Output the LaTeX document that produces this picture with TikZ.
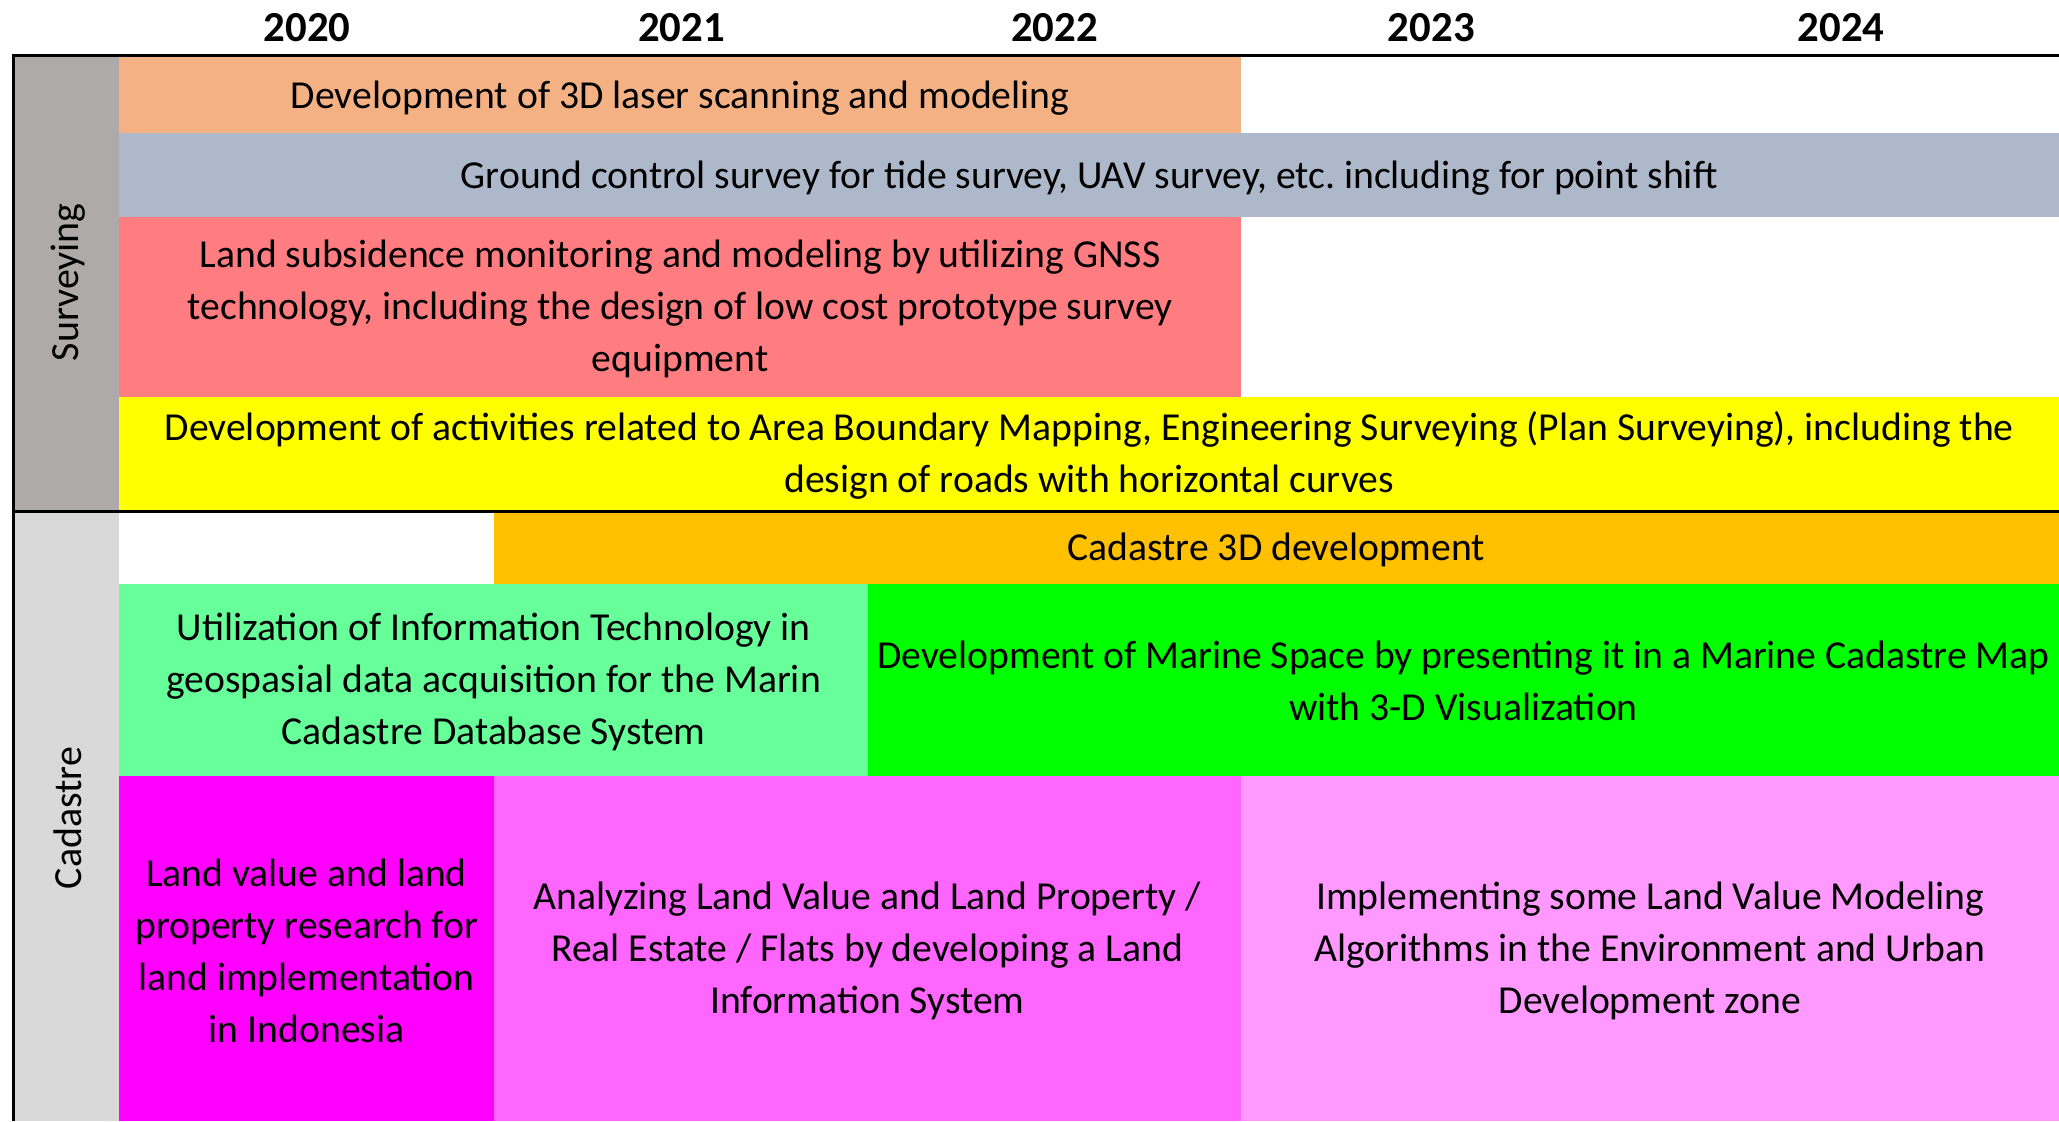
\documentclass[tikz,border=0pt]{standalone}
\usepackage{fontspec}
\setmainfont{Carlito}
\frenchspacing
\usetikzlibrary{fit}
\definecolor{cLaser}{HTML}{F4B183}
\definecolor{cGround}{HTML}{ADB9CA}
\definecolor{cSubs}{HTML}{FF7C80}
\definecolor{cYellow}{HTML}{FFFF00}
\definecolor{cCad}{HTML}{FFC000}
\definecolor{cMint}{HTML}{66FF99}
\definecolor{cGreen}{HTML}{00FF00}
\definecolor{cMag}{HTML}{FF00FF}
\definecolor{cPink}{HTML}{FF66FF}
\definecolor{cLPink}{HTML}{FF99FF}
\definecolor{cSurv}{HTML}{AEAAAA}
\definecolor{cCadL}{HTML}{D9D9D9}
\begin{document}
\begin{tikzpicture}[x=0.5pt,y=-0.5pt,
  box/.style={inner sep=0pt, outer sep=0pt, draw=none},
  txt/.style={inner sep=0pt, outer sep=0pt, align=center, yshift=-0.7pt, font=\frenchspacing\fontsize{15.1}{19.8}\selectfont},
  year/.style={font=\bfseries\fontsize{16.3}{18}\selectfont, inner sep=0pt},
  side/.style={rotate=90, inner sep=0pt, font=\fontsize{15.2}{16}\selectfont},
  frameline/.style={line width=1.1pt, black}]
\useasboundingbox (0,0) rectangle (1568,854);
% years
\node[year] (y20) at (234,21) {2020};
\node[year] (y21) at (519,21) {2021};
\node[year] (y22) at (803,21) {2022};
\node[year] (y23) at (1090,21) {2023};
\node[year] (y24) at (1402,21) {2024};
% side columns
\node[box, fill=cSurv, fit={(10,42)(91,389.5)}] (survcol) {};
\node[box, fill=cCadL, fit={(10,389.5)(91,854)}] (cadcol) {};
\node[side] (survlab) at (52,215) {Surveying};
\node[side] (cadlab) at (52,623) {Cadastre};
% surveying rows
\node[box, fill=cLaser, fit={(91,42)(945,101)}] (laser) {};
\node[box, fill=cGround, fit={(91,101)(1568,165)}] (ground) {};
\node[box, fill=cSubs, fit={(91,165)(945,302)}] (subs) {};
\node[box, fill=cYellow, fit={(91,302)(1568,389.5)}] (bound) {};
% cadastre rows
\node[box, fill=cCad, fit={(376,389.5)(1568,445)}] (cad3d) {};
\node[box, fill=cMint, fit={(91,445)(661,591)}] (itgeo) {};
\node[box, fill=cGreen, fit={(661,445)(1568,591)}] (marine) {};
\node[box, fill=cMag, fit={(91,591)(376,854)}] (landval) {};
\node[box, fill=cPink, fit={(376,591)(945,854)}] (analyz) {};
\node[box, fill=cLPink, fit={(945,591)(1568,854)}] (implem) {};
% texts
\node[txt] (laserT) at ([yshift=-0.8pt]laser.center) {Development of 3D laser scanning and modeling};
\node[txt] (groundT) at ([yshift=-0.5pt]ground.center) {Ground control survey for tide survey, UAV survey, etc. including for point shift};
\node[txt] (subsT) at (subs.center) {Land subsidence monitoring and modeling by utilizing GNSS\\technology, including the design of low cost prototype survey\\equipment};
\node[txt] (boundT) at (bound.center) {Development of activities related to Area Boundary Mapping, Engineering Surveying (Plan Surveying), including the\\design of roads with horizontal curves};
\node[txt] (cad3dT) at (cad3d.center) {Cadastre 3D development};
\node[txt] (itgeoT) at (itgeo.center) {Utilization of Information Technology in\\geospasial data acquisition for the Marin\\Cadastre Database System};
\node[txt] (marineT) at ([yshift=0.6pt]marine.center) {Development of Marine Space by presenting it in a Marine Cadastre Map\\with 3-D Visualization};
\node[txt] (landvalT) at (landval.center) {Land value and land\\property research for\\land implementation\\in Indonesia};
\node[txt] (analyzT) at (analyz.center) {Analyzing Land Value and Land Property /\\Real Estate / Flats by developing a Land\\Information System};
\node[txt] (implemT) at (implem.center) {Implementing some Land Value Modeling\\Algorithms in the Environment and Urban\\Development zone};
% frame lines
\coordinate (tl) at (10,42);
\coordinate (tr) at (1568,42);
\coordinate (bl) at (10,854);
\coordinate (ml) at (10,389.5);
\coordinate (mr) at (1568,389.5);
\draw[frameline] (bl) -- (tl) -- (tr);
\draw[frameline] (ml) -- (mr);
\end{tikzpicture}
\end{document}
